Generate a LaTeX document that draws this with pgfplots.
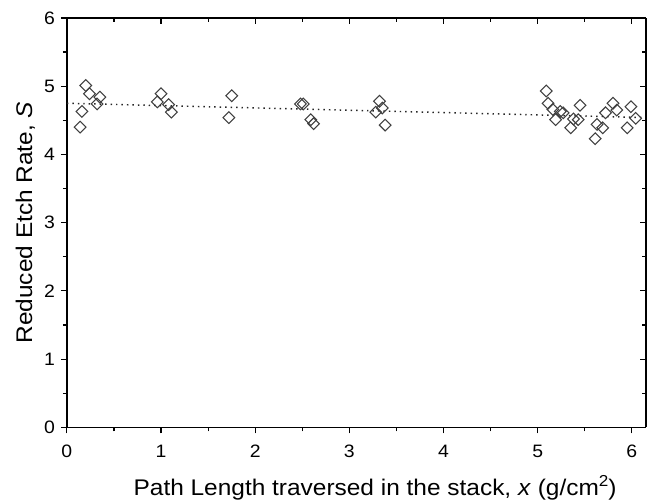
\documentclass[border=0pt]{standalone}
\usepackage{fontspec}
\setmainfont[FakeStretch=1.08]{Liberation Sans}
\usepackage{pgfplots}
\pgfplotsset{compat=1.18}

% measured etch rates, one row per track
\pgfplotstableread{
x     S
0.14  4.40
0.16  4.63
0.20  5.01
0.24  4.89
0.32  4.74
0.35  4.84
0.96  4.77
1.00  4.89
1.08  4.73
1.11  4.62
1.72  4.54
1.75  4.86
2.48  4.74
2.51  4.74
2.59  4.51
2.62  4.45
3.28  4.62
3.32  4.78
3.35  4.68
3.38  4.43
5.09  4.93
5.11  4.75
5.16  4.66
5.19  4.51
5.24  4.63
5.27  4.61
5.35  4.39
5.38  4.52
5.43  4.51
5.45  4.72
5.61  4.23
5.63  4.44
5.69  4.39
5.72  4.61
5.80  4.75
5.84  4.65
5.95  4.39
5.99  4.70
6.04  4.53
}\etchdata

% linear fit through the data
\pgfplotstableread{
x     S
0.00  4.75
6.15  4.54
}\fitline

\definecolor{markgray}{gray}{0.25}

\pgfplotsset{
  etchframe/.style={
    scale only axis,
    width=435pt, height=307.5pt,
    xmin=0, xmax=6.15, ymin=0, ymax=6,
    xtick={0,1,...,6}, ytick={0,1,...,6},
    minor xtick={0.5,1.5,...,5.5}, minor ytick={0.5,1.5,...,5.5},
    axis line style={line width=1pt, black},
    major tick style={line width=0.9pt, black},
    minor tick style={line width=0.9pt, black},
    major tick length=4.5pt, minor tick length=3pt,
  },
}

\begin{document}
\begin{tikzpicture}
\begin{axis}[
  etchframe,
  axis x line*=bottom, axis y line*=left,
  tick align=outside,
  /pgf/number format/assume math mode=true,
  tick label style={font=\fontsize{13.5}{16}\selectfont},
  xticklabel style={yshift=-5pt},
  yticklabel style={xshift=-1pt},
  xlabel={Path Length traversed in the stack, \textit{x} (g/cm$^{\mathrm{2}}$)},
  ylabel={Reduced Etch Rate, \textit{S}},
  label style={font=\fontsize{17}{20}\selectfont},
  xlabel style={yshift=-7pt, xshift=14pt},
  ylabel style={yshift=0pt},
]
\addplot[only marks, mark=square, mark size=3.1pt,
  mark options={rotate=45, draw=markgray, line width=0.8pt, fill=none}]
  table[x=x, y=S] {\etchdata};
\addplot[black!85, line width=1.1pt, dash pattern=on 1.1pt off 3pt]
  table[x=x, y=S] {\fitline};
\end{axis}
\begin{axis}[
  etchframe,
  axis x line*=top, axis y line*=right,
  tick align=inside,
  xticklabels={}, yticklabels={},
]
\end{axis}
\pgfresetboundingbox
\path (-50.25pt,-54pt) rectangle (435.75pt,321pt);
\end{tikzpicture}
\end{document}
